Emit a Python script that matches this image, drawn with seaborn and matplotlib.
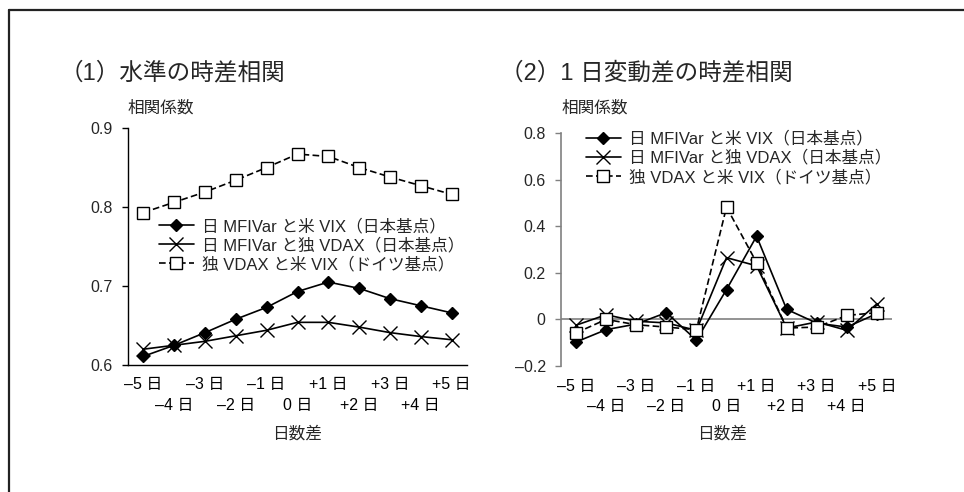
import matplotlib
matplotlib.use("Agg")
import matplotlib.pyplot as plt
from matplotlib.lines import Line2D
import seaborn as sns
import pandas as pd
import numpy as np

sns.set_theme(style="white")
plt.rcParams['font.family'] = ['Liberation Sans', 'Noto Sans CJK JP', 'DejaVu Sans']

# ---- data ----
lags = ["–5 日", "–4 日", "–3 日", "–2 日", "–1 日", "0 日",
        "+1 日", "+2 日", "+3 日", "+4 日", "+5 日"]
series_names = ["日 MFIVar と米 VIX（日本基点）",
                "日 MFIVar と独 VDAX（日本基点）",
                "独 VDAX と米 VIX（ドイツ基点）"]

level_jp_vix = [0.611, 0.625, 0.641, 0.658, 0.673, 0.693, 0.705, 0.697, 0.684, 0.675, 0.666]
level_jp_vdax = [0.620, 0.625, 0.630, 0.637, 0.644, 0.654, 0.654, 0.648, 0.641, 0.636, 0.632]
level_de_vix = [0.793, 0.806, 0.819, 0.834, 0.850, 0.867, 0.864, 0.850, 0.838, 0.827, 0.816]

diff_jp_vix = [-0.097, -0.044, -0.020, 0.029, -0.089, 0.128, 0.357, 0.043, -0.016, -0.033, 0.025]
diff_jp_vdax = [-0.025, 0.020, -0.008, -0.015, -0.047, 0.265, 0.230, -0.037, -0.011, -0.047, 0.067]
diff_de_vix = [-0.058, 0.000, -0.023, -0.033, -0.044, 0.482, 0.244, -0.037, -0.033, 0.017, 0.029]

left_yticks = [0.6, 0.7, 0.8, 0.9]
left_yticklabels = ["0.6", "0.7", "0.8", "0.9"]
right_yticks = [-0.2, 0.0, 0.2, 0.4, 0.6, 0.8]
right_yticklabels = ["–0.2", "0", "0.2", "0.4", "0.6", "0.8"]

titles = ["（1）水準の時差相関", "（2）1 日変動差の時差相関"]
ylab = "相関係数"
xlab = "日数差"

W, H = 964, 492
fig = plt.figure(figsize=(W / 100, H / 100), dpi=100)
fig.patch.set_facecolor("white")

def fx(px):
    return px / W

def fy(py):
    return 1 - py / H

# frame lines (top and left)
fig.add_artist(Line2D([fx(9), 1.0], [fy(10), fy(10)], color="#222222", lw=1.6))
fig.add_artist(Line2D([fx(9), fx(9)], [fy(10), 0.0], color="#222222", lw=1.6))

axL = fig.add_axes([fx(128), fy(365), fx(467) - fx(128), fy(128) - fy(365)])
axR = fig.add_axes([fx(561), fy(366), fx(892) - fx(561), fy(133) - fy(366)])

idx = np.arange(len(lags))

styles = [
    dict(marker="D", markersize=6.5, markerfacecolor="black", markeredgecolor="black",
         linestyle="-", markeredgewidth=1.0),
    dict(marker="x", markersize=10, markerfacecolor="none", markeredgecolor="black",
         linestyle="-", markeredgewidth=1.0),
    dict(marker="s", markersize=9, markerfacecolor="white", markeredgecolor="black",
         linestyle=(0, (4, 2)), markeredgewidth=1.0),
]

def draw(ax, data_list):
    for name, vals, st in zip(series_names, data_list, styles):
        df = pd.DataFrame({"lag": idx, "corr": vals})
        sns.lineplot(data=df, x="lag", y="corr", ax=ax, color="black", lw=1.2,
                     label=name, errorbar=None, **st)

draw(axL, [level_jp_vix, level_jp_vdax, level_de_vix])
draw(axR, [diff_jp_vix, diff_jp_vdax, diff_de_vix])

# axes styling
for ax in (axL, axR):
    ax.set_xlim(-0.5, 10.5)
    ax.set_xticks(idx[0::2])
    ax.set_xticklabels(lags[0::2], fontsize=11.5)
    ax.set_xticks(idx[1::2], minor=True)
    ax.set_xticklabels(lags[1::2], minor=True, fontsize=11.5)
    ax.tick_params(axis="x", which="major", length=0, pad=9, colors="black")
    ax.tick_params(axis="x", which="minor", length=0, pad=23.5, colors="black")
    ax.set_xlabel("")
    ax.set_ylabel("")
    ax.spines["top"].set_visible(False)
    ax.spines["right"].set_visible(False)
    ax.set_facecolor("white")
    ax.grid(False)

axL.set_ylim(0.6, 0.9)
axL.set_yticks(left_yticks)
axL.set_yticklabels(left_yticklabels, fontsize=11.5)
axL.spines["left"].set_color("black")
axL.spines["bottom"].set_color("black")
axL.spines["left"].set_linewidth(1.0)
axL.spines["bottom"].set_linewidth(1.0)
axL.tick_params(axis="y", length=4, width=1.0, color="black", direction="out", left=True, pad=7)

axR.set_ylim(-0.2, 0.8)
axR.set_yticks(right_yticks)
axR.set_yticklabels(right_yticklabels, fontsize=11.5)
axR.spines["left"].set_color("#808080")
axR.spines["left"].set_linewidth(1.2)
axR.spines["bottom"].set_visible(False)
axR.axhline(0, color="#808080", lw=1.2, zorder=0.5)
axR.tick_params(axis="y", length=4, width=1.0, color="#808080", direction="out", left=True, pad=7)

# legends
for ax, anchor in ((axL, (0.09, 0.62)), (axR, (0.075, 1.01))):
    handles, labels = ax.get_legend_handles_labels()
    ax.legend(handles, labels, loc="upper left", bbox_to_anchor=anchor, frameon=False,
              fontsize=12, handlelength=2.1, handletextpad=0.5, labelspacing=0.2,
              borderpad=0, borderaxespad=0, numpoints=1)

# titles, y labels, x labels
fig.text(fx(60), fy(73), titles[0], fontsize=17, ha="left", va="center")
fig.text(fx(500), fy(73), titles[1], fontsize=17, ha="left", va="center")
fig.text(fx(128), fy(108), ylab, fontsize=12, ha="left", va="center")
fig.text(fx(562), fy(108), ylab, fontsize=12, ha="left", va="center")
fig.text(fx(297), fy(434), xlab, fontsize=12, ha="center", va="center")
fig.text(fx(722), fy(434), xlab, fontsize=12, ha="center", va="center")

fig.savefig("out.png", dpi=100, facecolor="white")
